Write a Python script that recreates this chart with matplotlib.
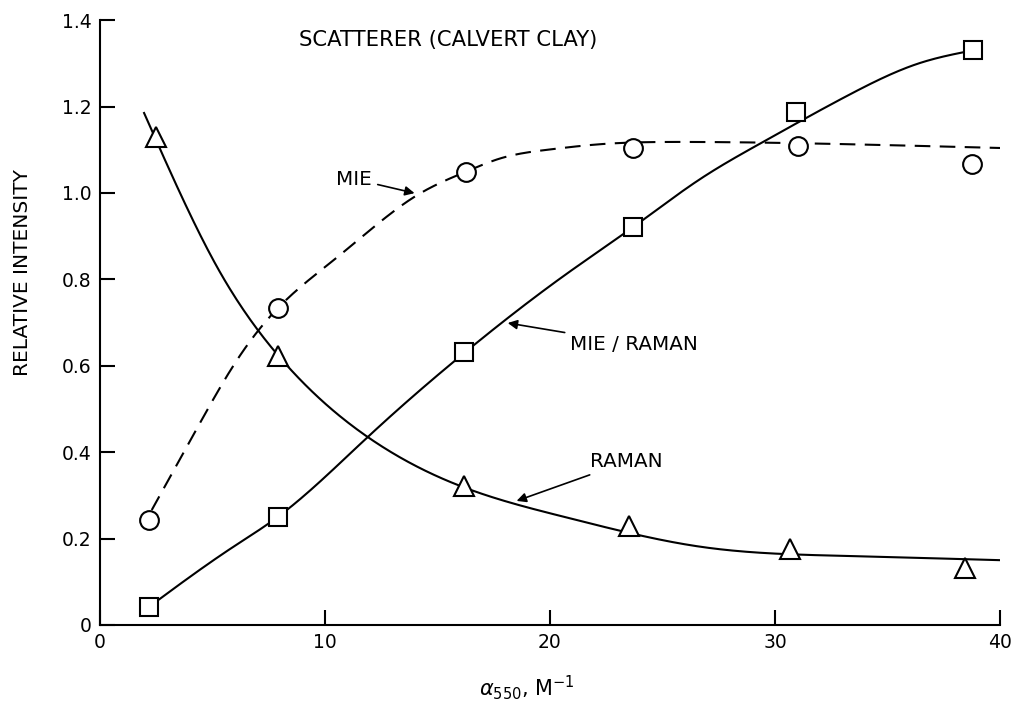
import numpy as np
import matplotlib
matplotlib.use("Agg")
import matplotlib.pyplot as plt

plt.rcParams['font.family'] = ['DejaVu Sans']

# ---- measured data points ----
raman_x = [2.5, 7.93, 16.17, 23.5, 30.67, 38.46]
raman_y = [1.13, 0.622, 0.322, 0.229, 0.176, 0.132]

mie_x = [2.18, 7.9, 16.28, 23.7, 31.0, 38.77]
mie_y = [0.242, 0.734, 1.049, 1.104, 1.109, 1.067]

ratio_x = [2.18, 7.9, 16.2, 23.67, 30.94, 38.8]
ratio_y = [0.042, 0.25, 0.631, 0.92, 1.187, 1.33]

# ---- hand-drawn fit curves ----
raman_curve_x = [1.96, 3.7, 5.2, 7.95, 11.9, 16.2, 20.8, 26.7, 33.0, 40.0]
raman_curve_y = [1.185, 0.984, 0.829, 0.622, 0.435, 0.318, 0.248, 0.181, 0.160, 0.150]

mie_curve_x = [2.3, 4.45, 6.0, 7.9, 10.4, 12.5, 14.1, 16.3, 17.8, 19.9, 22.3, 26.0, 33.0, 40.0]
mie_curve_y = [0.266, 0.468, 0.606, 0.733, 0.845, 0.935, 0.995, 1.05, 1.08, 1.10, 1.113, 1.118, 1.113, 1.104]

ratio_curve_x = [2.18, 5.9, 7.9, 11.9, 16.2, 20.8, 23.67, 26.7, 29.4, 33.4, 36.4, 38.8]
ratio_curve_y = [0.042, 0.18, 0.25, 0.435, 0.63, 0.815, 0.92, 1.033, 1.116, 1.23, 1.30, 1.33]

x_ticks = [0, 10, 20, 30, 40]
x_tick_labels = ['0', '10', '20', '30', '40']
y_ticks = [0, 0.2, 0.4, 0.6, 0.8, 1.0, 1.2, 1.4]
y_tick_labels = ['0', '0.2', '0.4', '0.6', '0.8', '1.0', '1.2', '1.4']


def natural_spline(xk, yk, xs):
    xk = np.asarray(xk, float); yk = np.asarray(yk, float)
    n = len(xk)
    h = np.diff(xk)
    A = np.zeros((n, n)); b = np.zeros(n)
    A[0, 0] = 1.0; A[-1, -1] = 1.0
    for i in range(1, n - 1):
        A[i, i - 1] = h[i - 1]
        A[i, i] = 2 * (h[i - 1] + h[i])
        A[i, i + 1] = h[i]
        b[i] = 6 * ((yk[i + 1] - yk[i]) / h[i] - (yk[i] - yk[i - 1]) / h[i - 1])
    M = np.linalg.solve(A, b)
    idx = np.clip(np.searchsorted(xk, xs) - 1, 0, n - 2)
    x0 = xk[idx]; x1 = xk[idx + 1]; hh = h[idx]
    return (M[idx] * (x1 - xs) ** 3 / (6 * hh) + M[idx + 1] * (xs - x0) ** 3 / (6 * hh)
            + (yk[idx] / hh - M[idx] * hh / 6) * (x1 - xs)
            + (yk[idx + 1] / hh - M[idx + 1] * hh / 6) * (xs - x0))


fig = plt.figure(figsize=(10.17, 7.05), dpi=100)
ax = fig.add_axes([0.0983, 0.1135, 0.8850, 0.858])

lw = 1.5
for cx, cy, dashed in [(raman_curve_x, raman_curve_y, False),
                       (mie_curve_x, mie_curve_y, True),
                       (ratio_curve_x, ratio_curve_y, False)]:
    xs = np.linspace(cx[0], cx[-1], 500)
    ys = natural_spline(cx, cy, xs)
    line, = ax.plot(xs, ys, color='black', lw=lw, zorder=2)
    if dashed:
        line.set_dashes((7.5, 4.5))

mk = dict(linestyle='none', mfc='white', mec='black', mew=1.5, zorder=3)
ax.plot(raman_x, raman_y, marker='^', ms=15, **mk)
ax.plot(mie_x, mie_y, marker='o', ms=13.5, **mk)
ax.plot(ratio_x, ratio_y, marker='s', ms=13.5, **mk)

ax.set_xlim(0, 40)
ax.set_ylim(0, 1.4)
for s in ['top', 'right']:
    ax.spines[s].set_visible(False)
for s in ['left', 'bottom']:
    ax.spines[s].set_linewidth(1.5)

ax.set_xticks(x_ticks)
ax.set_xticklabels(x_tick_labels)
ax.set_yticks(y_ticks)
ax.set_yticklabels(y_tick_labels)
ax.tick_params(axis='both', direction='in', length=11, width=1.5, labelsize=13.5)
ax.tick_params(axis='x', pad=6)
ax.tick_params(axis='y', pad=6)

fig.text((100 + 0.474 * 900) / 1017, 1 - 688 / 705, r'$\alpha_{550}$, M$^{-1}$',
         fontsize=15, ha='center', va='center')
ax.set_ylabel('RELATIVE INTENSITY', fontsize=14.5)
ax.yaxis.set_label_coords(-0.076, 0.583)

ax.text(8.85, 1.353, 'SCATTERER (CALVERT CLAY)', fontsize=15.2, va='center', ha='left')

arrow = dict(arrowstyle='-|>', color='black', lw=1.2, mutation_scale=14)
ax.annotate('MIE', xy=(14.1, 0.998), xytext=(12.1, 1.032), fontsize=14.3,
            va='center', ha='right', arrowprops=arrow)
ax.annotate('MIE / RAMAN', xy=(18.0, 0.70), xytext=(20.9, 0.65), fontsize=14.3,
            va='center', ha='left', arrowprops=arrow)
ax.annotate('RAMAN', xy=(18.4, 0.285), xytext=(21.8, 0.378), fontsize=14.3,
            va='center', ha='left', arrowprops=arrow)

fig.savefig('out.png', dpi=100)
